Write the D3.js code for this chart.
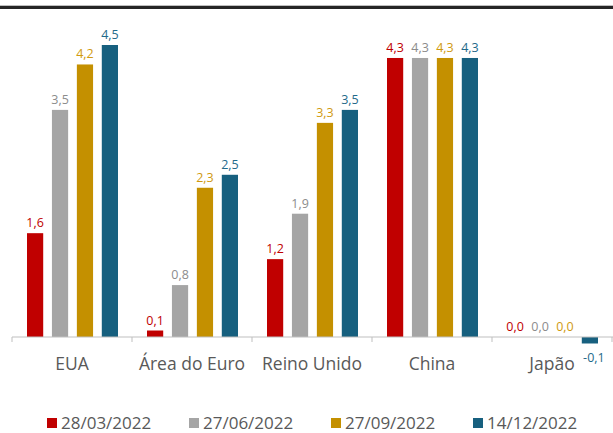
<!DOCTYPE html>
<html>
<head>
<meta charset="utf-8">
<script src="https://cdn.jsdelivr.net/npm/d3@7"></script>
<style>
  body { margin: 0; background: #fff; }
  text { font-family: "Open Sans", "Liberation Sans", sans-serif; }
</style>
</head>
<body>
<div id="chart"></div>
<script>
// data
var categories = ['EUA', 'Área do Euro', 'Reino Unido', 'China', 'Japão'];
var series = ['28/03/2022', '27/06/2022', '27/09/2022', '14/12/2022'];
var v28mar = [1.6, 0.1, 1.2, 4.3, 0.0];
var v27jun = [3.5, 0.8, 1.9, 4.3, 0.0];
var v27set = [4.2, 2.3, 3.3, 4.3, 0.0];
var v14dez = [4.5, 2.5, 3.5, 4.3, -0.1];
var values = [v28mar, v27jun, v27set, v14dez];

var barColors = ['#C00000', '#A5A5A5', '#C49000', '#17607F'];
var labelColors = ['#C00000', '#8C8C8C', '#D09A10', '#1F6A8A'];

var W = 613, H = 433;
var svg = d3.select('#chart').append('svg').attr('width', W).attr('height', H);

// top rule
svg.append('rect').attr('x', 0).attr('y', 5).attr('width', W).attr('height', 1).attr('fill', '#BFBFBF');
svg.append('rect').attr('x', 0).attr('y', 6).attr('width', W).attr('height', 3).attr('fill', '#262626');

var x = d3.scaleBand().domain(categories).range([12, 612]);
var xs = d3.scaleBand().domain(series).range([15, 106]).paddingInner(0.35);
var y = d3.scaleLinear().domain([0, 4.5]).range([337, 45]);

var rows = [];
categories.forEach(function(c, i) {
    series.forEach(function(s, j) {
        rows.push({ cat: c, s: s, j: j, v: values[j][i] });
    });
});

var g = svg.append('g');
g.selectAll('rect.bar').data(rows).enter().append('rect')
    .attr('class', 'bar')
    .attr('x', function(d) { return x(d.cat) + xs(d.s); })
    .attr('y', function(d) { return Math.min(y(d.v), y(0)); })
    .attr('width', xs.bandwidth())
    .attr('height', function(d) { return Math.abs(y(d.v) - y(0)); })
    .attr('fill', function(d) { return barColors[d.j]; });

g.selectAll('text.val').data(rows).enter().append('text')
    .attr('class', 'val')
    .attr('x', function(d) { return x(d.cat) + xs(d.s) + xs.bandwidth() / 2 + (d.v < 0 ? 4 : 0); })
    .attr('y', function(d) { return d.v < 0 ? y(d.v) + 19 : y(d.v) - 6; })
    .attr('text-anchor', 'middle')
    .attr('font-size', 12.5)
    .attr('fill', function(d) { return labelColors[d.j]; })
    .text(function(d) { return d3.format('.1f')(d.v).replace('.', ',').replace('−', '-'); });

// axis
var axis = svg.append('g').attr('transform', 'translate(0,' + y(0) + ')');
axis.append('line').attr('x1', 12).attr('x2', 613).attr('stroke', '#BFBFBF');
var bounds = categories.map(function(c) { return x(c); }).concat([x.range()[1]]);
axis.selectAll('line.tick').data(bounds).enter().append('line')
    .attr('class', 'tick')
    .attr('x1', function(d) { return d; }).attr('x2', function(d) { return d; })
    .attr('y1', 0).attr('y2', 5).attr('stroke', '#BFBFBF');
axis.selectAll('text').data(categories).enter().append('text')
    .attr('x', function(c) { return x(c) + x.bandwidth() / 2; })
    .attr('y', 33)
    .attr('text-anchor', 'middle')
    .attr('font-size', 17.5)
    .attr('fill', '#595959')
    .text(function(c) { return c; });

// legend
var legX = [47, 189, 331, 473];
var leg = svg.append('g').selectAll('g').data(series).enter().append('g')
    .attr('transform', function(d, i) { return 'translate(' + legX[i] + ',418)'; });
leg.append('rect').attr('width', 10).attr('height', 10)
    .attr('fill', function(d, i) { return barColors[i]; });
leg.append('text').attr('x', 14).attr('y', 11).attr('font-size', 17).attr('fill', '#595959')
    .text(function(d) { return d; });
</script>
</body>
</html>
